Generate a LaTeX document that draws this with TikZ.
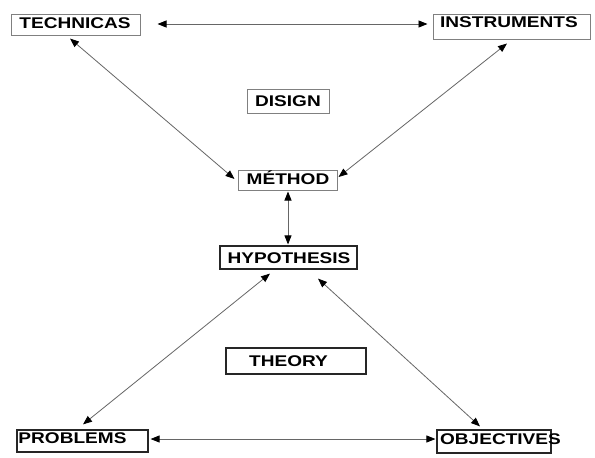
\documentclass[tikz,border=0pt]{standalone}
\usepackage{fontspec}
\setmainfont[FakeStretch=1.23]{Liberation Sans}
\usetikzlibrary{arrows.meta,calc}
\begin{document}
\begin{tikzpicture}[x=1pt,y=-1pt,
  gbox/.style={draw=black!50, line width=1pt, inner sep=0pt},
  kbox/.style={draw=black!85, line width=1.2pt, inner sep=0pt},
  lbl/.style={font=\fontsize{15.5}{15.5}\selectfont\bfseries, inner sep=0pt, anchor=base},
  link/.style={draw=black!60, line width=0.8pt,
    {Triangle[length=9pt,width=7pt,color=black]}-{Triangle[length=9pt,width=7pt,color=black]}}
]
\useasboundingbox (0,0) rectangle (595,458);
\fill[white] (0,0) rectangle (595,458);

% boxes
\node[gbox, minimum width=129pt, minimum height=21pt] (tech) at (75.5,24.5) {};
\node[gbox, minimum width=157pt, minimum height=25pt] (instr) at (511.5,26.5) {};
\node[gbox, minimum width=82pt, minimum height=24pt] (dis) at (288,101) {};
\node[gbox, minimum width=99pt, minimum height=20pt] (meth) at (287.5,180) {};
\node[kbox, minimum width=137pt, minimum height=23pt] (hyp) at (288.5,257.5) {};
\node[kbox, minimum width=140pt, minimum height=26pt] (theo) at (296,361) {};
\node[kbox, minimum width=131pt, minimum height=22pt] (prob) at (82.5,441) {};
\node[kbox, minimum width=114pt, minimum height=23pt] (obj) at (494,441.5) {};

% texts
\node[lbl] (ttech) at (75,28) {TECHNICAS};
\node[lbl] (tinstr) at (509,27.5) {INSTRUMENTS};
\node[lbl] (tdis) at (288,106) {DISIGN};
\node[lbl] (tmeth) at (288,184.5) {MÉTHOD};
\node[lbl] (thyp) at (289,263.5) {HYPOTHESIS};
\node[lbl] (ttheo) at (288.5,366) {THEORY};
\node[lbl] (tprob) at (72.5,443.5) {PROBLEMS};
\node[lbl] (tobj) at (500.5,444.5) {OBJECTIVES};

% connectors
\draw[link] ($(tech.east)+(17,-0.5)$) -- ($(instr.west)+(-5,-2.5)$);
\draw[link] ($(tech.south)+(-5.5,3)$) -- ($(meth.west)+(-3,-1)$);
\draw[link] ($(instr.south)+(-4.5,4)$) -- ($(meth.east)+(1,-3)$);
\draw[link] ($(meth.south)+(0.5,1)$) -- ($(hyp.north)+(-0.5,-1)$);
\draw[link] ($(hyp.south)+(-18.5,4)$) -- ($(prob.north)+(0.5,-5)$);
\draw[link] ($(hyp.south)+(29.5,9)$) -- ($(obj.north)+(-14,-3)$);
\draw[link] ($(prob.east)+(2,-2)$) -- ($(obj.west)+(-1,-2.5)$);
\end{tikzpicture}
\end{document}
